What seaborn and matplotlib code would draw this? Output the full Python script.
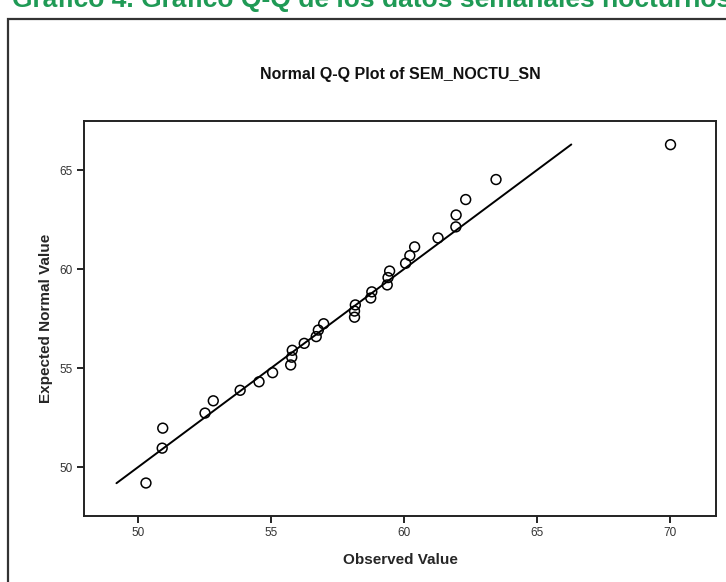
import matplotlib
matplotlib.use("Agg")
import matplotlib.pyplot as plt
import seaborn as sns
import pandas as pd
from matplotlib.patches import Rectangle

# ---- data ----
observed = [50.31, 50.92, 50.94, 52.53, 52.84, 53.85, 54.56, 55.07, 55.75, 55.79,
            55.81, 56.26, 56.71, 56.79, 56.99, 58.15, 58.15, 58.18, 58.76, 58.80,
            59.38, 59.41, 59.47, 60.07, 60.23, 60.41, 61.29, 61.96, 61.97, 62.33,
            63.47, 70.03]
expected = [49.21, 50.97, 51.98, 52.74, 53.36, 53.89, 54.32, 54.78, 55.17, 55.56,
            55.91, 56.26, 56.60, 56.93, 57.25, 57.58, 57.89, 58.20, 58.55, 58.86,
            59.21, 59.58, 59.91, 60.30, 60.69, 61.13, 61.58, 62.14, 62.74, 63.52,
            64.53, 66.29]
ref_line = [49.2, 66.3]
x_ticks = [50, 55, 60, 65, 70]
y_ticks = [50, 55, 60, 65]

title = "Normal Q-Q Plot of SEM_NOCTU_SN"
caption = "Gráfico 4. Gráfico Q-Q de los datos semanales nocturnos"
x_label = "Observed Value"
y_label = "Expected Normal Value"

df = pd.DataFrame({"observed": observed, "expected": expected})
line_df = pd.DataFrame({"x": ref_line, "y": ref_line})

sns.set_theme(style="white")
plt.rcParams['font.family'] = ['Liberation Sans', 'DejaVu Sans']

W, H = 726, 582
fig = plt.figure(figsize=(W / 100, H / 100), dpi=100)
fig.patch.set_facecolor("white")

# axes placement (pixels -> figure fraction)
left, right, top, bottom = 84, 716, 120.7, 515.5
ax = fig.add_axes([left / W, 1 - bottom / H, (right - left) / W, (bottom - top) / H])

sns.lineplot(data=line_df, x="x", y="y", ax=ax, color="black", linewidth=1.4)
sns.scatterplot(data=df, x="observed", y="expected", ax=ax, marker="o",
                s=50, facecolor="none", edgecolor="black", linewidth=1.1, zorder=3)

ax.set_xlim(47.98, 71.74)
ax.set_ylim(47.57, 67.5)
ax.set_xticks(x_ticks)
ax.set_yticks(y_ticks)
ax.set_xticklabels([str(t) for t in x_ticks], fontsize=8.5)
ax.set_yticklabels([str(t) for t in y_ticks], fontsize=8.5)
ax.tick_params(axis="both", direction="out", length=5, width=1.2, color="black",
               pad=3, bottom=True, left=True, labelcolor="#333333")
for s in ax.spines.values():
    s.set_color("#222222")
    s.set_linewidth(1.4)

ax.set_xlabel(x_label, fontsize=11, fontweight="bold", labelpad=10)
ax.set_ylabel(y_label, fontsize=11, fontweight="bold", labelpad=5)

fig.text(400 / W, 1 - 75 / H, title, ha="center", va="center",
         fontsize=11.5, fontweight="bold", color="#111111")

# outer frame of the document figure
fig.patches.append(Rectangle((8 / W, -0.05), 1.2, 1 - 19 / H + 0.05,
                             transform=fig.transFigure, fill=False,
                             edgecolor="#333333", linewidth=1.6))

# cut-off green caption at the very top (as in the scanned reference)
fig.text(12 / W, 1 - 7 / H, caption, ha="left", va="baseline",
         fontsize=19, fontweight="bold", color="#1f9a55")

fig.savefig("out.png", dpi=100)
